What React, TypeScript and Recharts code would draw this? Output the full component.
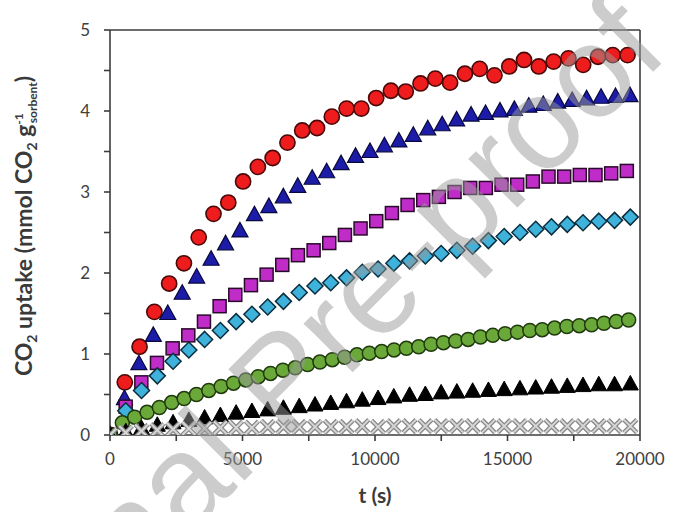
import React from 'react'
import { ScatterChart, Scatter, XAxis, YAxis, ReferenceLine } from 'recharts'

// time stamps (s) for each run
const tRed = [0, 558, 1116, 1674, 2232, 2790, 3348, 3906, 4464, 5022, 5580, 6138, 6696, 7254, 7812, 8370, 8928, 9486, 10044, 10602, 11160, 11718, 12276, 12834, 13392, 13950, 14508, 15066, 15624, 16182, 16740, 17298, 17856, 18414, 18972, 19530]
const tBlue = [0, 545, 1090, 1635, 2180, 2725, 3270, 3815, 4360, 4905, 5450, 5995, 6540, 7085, 7630, 8175, 8720, 9265, 9810, 10355, 10900, 11445, 11990, 12535, 13080, 13625, 14170, 14715, 15260, 15805, 16350, 16895, 17440, 17985, 18530, 19075, 19620]
const tPurple = [0, 591, 1182, 1773, 2364, 2955, 3546, 4137, 4728, 5319, 5910, 6501, 7092, 7683, 8274, 8865, 9456, 10047, 10638, 11229, 11820, 12411, 13002, 13593, 14184, 14775, 15366, 15957, 16548, 17139, 17730, 18321, 18912, 19503]
const tSlow = [0, 595, 1190, 1785, 2380, 2975, 3570, 4165, 4760, 5355, 5950, 6545, 7140, 7735, 8330, 8925, 9520, 10115, 10710, 11305, 11900, 12495, 13090, 13685, 14280, 14875, 15470, 16065, 16660, 17255, 17850, 18445, 19040, 19635]
const tGreen = [0, 466, 932, 1398, 1864, 2330, 2796, 3262, 3728, 4194, 4660, 5126, 5592, 6058, 6524, 6990, 7456, 7922, 8388, 8854, 9320, 9786, 10252, 10718, 11184, 11650, 12116, 12582, 13048, 13514, 13980, 14446, 14912, 15378, 15844, 16310, 16776, 17242, 17708, 18174, 18640, 19106, 19572]

// CO2 uptake (mmol/g)
const redUptake = [0, 0.65, 1.09, 1.52, 1.87, 2.12, 2.44, 2.73, 2.87, 3.13, 3.31, 3.42, 3.61, 3.76, 3.79, 3.93, 4.03, 4.03, 4.16, 4.25, 4.24, 4.34, 4.4, 4.35, 4.46, 4.52, 4.44, 4.55, 4.63, 4.55, 4.61, 4.65, 4.57, 4.67, 4.69, 4.69]
const blueUptake = [0, 0.45, 0.88, 1.23, 1.5, 1.75, 1.95, 2.17, 2.36, 2.52, 2.72, 2.82, 2.94, 3.07, 3.17, 3.25, 3.35, 3.44, 3.5, 3.57, 3.63, 3.7, 3.78, 3.83, 3.89, 3.95, 3.97, 4.0, 4.02, 4.06, 4.08, 4.11, 4.13, 4.15, 4.17, 4.18, 4.19]
const purpleUptake = [0, 0.35, 0.65, 0.89, 1.07, 1.23, 1.4, 1.59, 1.73, 1.85, 1.98, 2.1, 2.22, 2.28, 2.37, 2.47, 2.55, 2.64, 2.74, 2.84, 2.9, 2.94, 3.0, 3.05, 3.05, 3.09, 3.09, 3.13, 3.19, 3.19, 3.21, 3.21, 3.23, 3.26]
const cyanUptake = [0, 0.3, 0.55, 0.73, 0.91, 1.05, 1.18, 1.29, 1.4, 1.49, 1.58, 1.65, 1.76, 1.84, 1.88, 1.94, 2.01, 2.05, 2.12, 2.15, 2.21, 2.24, 2.28, 2.33, 2.4, 2.45, 2.5, 2.54, 2.57, 2.6, 2.62, 2.64, 2.65, 2.69]
const greenUptake = [0, 0.15, 0.22, 0.28, 0.34, 0.4, 0.45, 0.5, 0.55, 0.6, 0.64, 0.68, 0.72, 0.76, 0.8, 0.83, 0.87, 0.9, 0.93, 0.96, 0.99, 1.01, 1.03, 1.05, 1.07, 1.09, 1.12, 1.14, 1.16, 1.18, 1.21, 1.23, 1.25, 1.27, 1.29, 1.3, 1.32, 1.34, 1.35, 1.36, 1.38, 1.4, 1.42]
const blackUptake = [0, 0.04, 0.08, 0.12, 0.15, 0.18, 0.21, 0.24, 0.27, 0.29, 0.31, 0.33, 0.35, 0.37, 0.39, 0.41, 0.43, 0.45, 0.47, 0.49, 0.5, 0.52, 0.53, 0.54, 0.55, 0.56, 0.57, 0.58, 0.59, 0.6, 0.61, 0.62, 0.62, 0.63]
const grayUptake = [0, 0.03, 0.05, 0.06, 0.07, 0.08, 0.08, 0.09, 0.09, 0.09, 0.1, 0.1, 0.1, 0.1, 0.1, 0.1, 0.11, 0.1, 0.11, 0.11, 0.11, 0.11, 0.11, 0.11, 0.11, 0.11, 0.11, 0.11, 0.11, 0.11, 0.11, 0.11, 0.11, 0.11]

const xTicks = [0, 2500, 5000, 7500, 10000, 12500, 15000, 17500, 20000]
const yTicks = [0, 0.5, 1, 1.5, 2, 2.5, 3, 3.5, 4, 4.5, 5]

const zip = (t: number[], v: number[]) => t.map((x, i) => ({ t: x, v: v[i] }))

const AXIS = '#3c3c3c'
const tickStyle = { fill: '#404040', fontSize: 17, fontFamily: 'Lato, sans-serif' }

function Marker(props: any) {
  const { cx, cy, kind } = props
  if (cx == null || cy == null) return null
  switch (kind) {
    case 'redCircle':
      return <circle cx={cx} cy={cy} r={7.6} fill="#ee1c1c" stroke="#4a0808" strokeWidth={1.6} />
    case 'blueTri':
      return <polygon points={`${cx},${cy - 8.5} ${cx - 8},${cy + 6} ${cx + 8},${cy + 6}`} fill="#1c1ca8" stroke="#08083c" strokeWidth={1.2} />
    case 'purpleSq':
      return <rect x={cx - 6.5} y={cy - 6.5} width={13} height={13} fill="#c02cc8" stroke="#2a0a2a" strokeWidth={1.5} />
    case 'cyanDia':
      return <polygon points={`${cx},${cy - 8} ${cx + 8},${cy} ${cx},${cy + 8} ${cx - 8},${cy}`} fill="#3fb2dc" stroke="#0a2e3e" strokeWidth={1.5} />
    case 'greenCircle':
      return <circle cx={cx} cy={cy} r={7} fill="#6aa83a" stroke="#1f3a0c" strokeWidth={1.5} />
    case 'blackTri':
      return <polygon points={`${cx},${cy - 8.5} ${cx - 8},${cy + 6} ${cx + 8},${cy + 6}`} fill="#000" stroke="#000" strokeWidth={1} />
    case 'grayX': {
      const d = `M${cx - 6.5},${cy - 6.5}L${cx + 6.5},${cy + 6.5}M${cx - 6.5},${cy + 6.5}L${cx + 6.5},${cy - 6.5}`
      return (
        <g>
          <path d={d} stroke="#8a8a8a" strokeWidth={4.5} fill="none" />
          <path d={d} stroke="#d6d6d6" strokeWidth={2} fill="none" />
        </g>
      )
    }
    default:
      return null
  }
}

const series = [
  { key: 'red', kind: 'redCircle', data: zip(tRed, redUptake) },
  { key: 'blue', kind: 'blueTri', data: zip(tBlue, blueUptake) },
  { key: 'purple', kind: 'purpleSq', data: zip(tPurple, purpleUptake) },
  { key: 'cyan', kind: 'cyanDia', data: zip(tSlow, cyanUptake) },
  { key: 'green', kind: 'greenCircle', data: zip(tGreen, greenUptake) },
  { key: 'black', kind: 'blackTri', data: zip(tSlow, blackUptake) },
  { key: 'gray', kind: 'grayX', data: zip(tSlow, grayUptake) },
]

export default function App() {
  return (
    <div style={{ position: 'absolute', left: 0, top: 0, width: 673, height: 512, background: '#fff', overflow: 'hidden' }}>
      <ScatterChart width={673} height={512} margin={{ top: 30, right: 33, bottom: 37, left: 40 }}>
        <XAxis
          type="number"
          dataKey="t"
          domain={[0, 20000]}
          ticks={xTicks}
          tickFormatter={(v: number) => (v % 5000 === 0 ? String(v) : '')}
          tickSize={6}
          tickMargin={12}
          height={40}
          allowDataOverflow
          axisLine={{ stroke: AXIS, strokeWidth: 1.6 }}
          tickLine={{ stroke: AXIS, strokeWidth: 1.6 }}
          tick={tickStyle}
        />
        <YAxis
          type="number"
          dataKey="v"
          domain={[0, 5]}
          ticks={yTicks}
          tickFormatter={(v: number) => (Number.isInteger(v) ? String(v) : '')}
          tickSize={6}
          tickMargin={14}
          width={70}
          allowDataOverflow
          axisLine={{ stroke: AXIS, strokeWidth: 1.6 }}
          tickLine={{ stroke: AXIS, strokeWidth: 1.6 }}
          tick={tickStyle}
        />
        <ReferenceLine y={5} stroke={AXIS} strokeWidth={1.6} />
        <ReferenceLine x={20000} stroke={AXIS} strokeWidth={1.6} />
        {series.map((s) => (
          <Scatter
            key={s.key}
            data={s.data}
            isAnimationActive={false}
            shape={(p: any) => <Marker {...p} kind={s.kind} />}
          />
        ))}
      </ScatterChart>
      <svg width={673} height={512} style={{ position: 'absolute', left: 0, top: 0, pointerEvents: 'none' }}>
        <text
          transform="translate(32,226) rotate(-90)"
          textAnchor="middle"
          fontFamily="Lato, sans-serif"
          fontWeight="bold"
          fontSize={23}
          fill="#3a3a3a"
        >
          CO<tspan fontSize={14} dy={5}>2</tspan>
          <tspan dy={-5}> uptake (mmol CO</tspan>
          <tspan fontSize={14} dy={5}>2</tspan>
          <tspan dy={-5}> g</tspan>
          <tspan fontSize={12} dy={-9}>-1</tspan>
          <tspan fontSize={12} dx={-10} dy={14}>sorbent</tspan>
          <tspan dy={-5}>)</tspan>
        </text>
        <text x={375} y={503} textAnchor="middle" fontFamily="Lato, sans-serif" fontWeight="bold" fontSize={21} fill="#3a3a3a">
          t (s)
        </text>
        <text
          x={-45}
          y={770}
          transform="rotate(-45 -45 770)"
          fontFamily="'Liberation Sans', Arial, sans-serif"
          fontSize={131}
          fill="#9a9a9a"
          opacity={0.5}
        >
          Journal Pre-proof
        </text>
      </svg>
    </div>
  )
}
